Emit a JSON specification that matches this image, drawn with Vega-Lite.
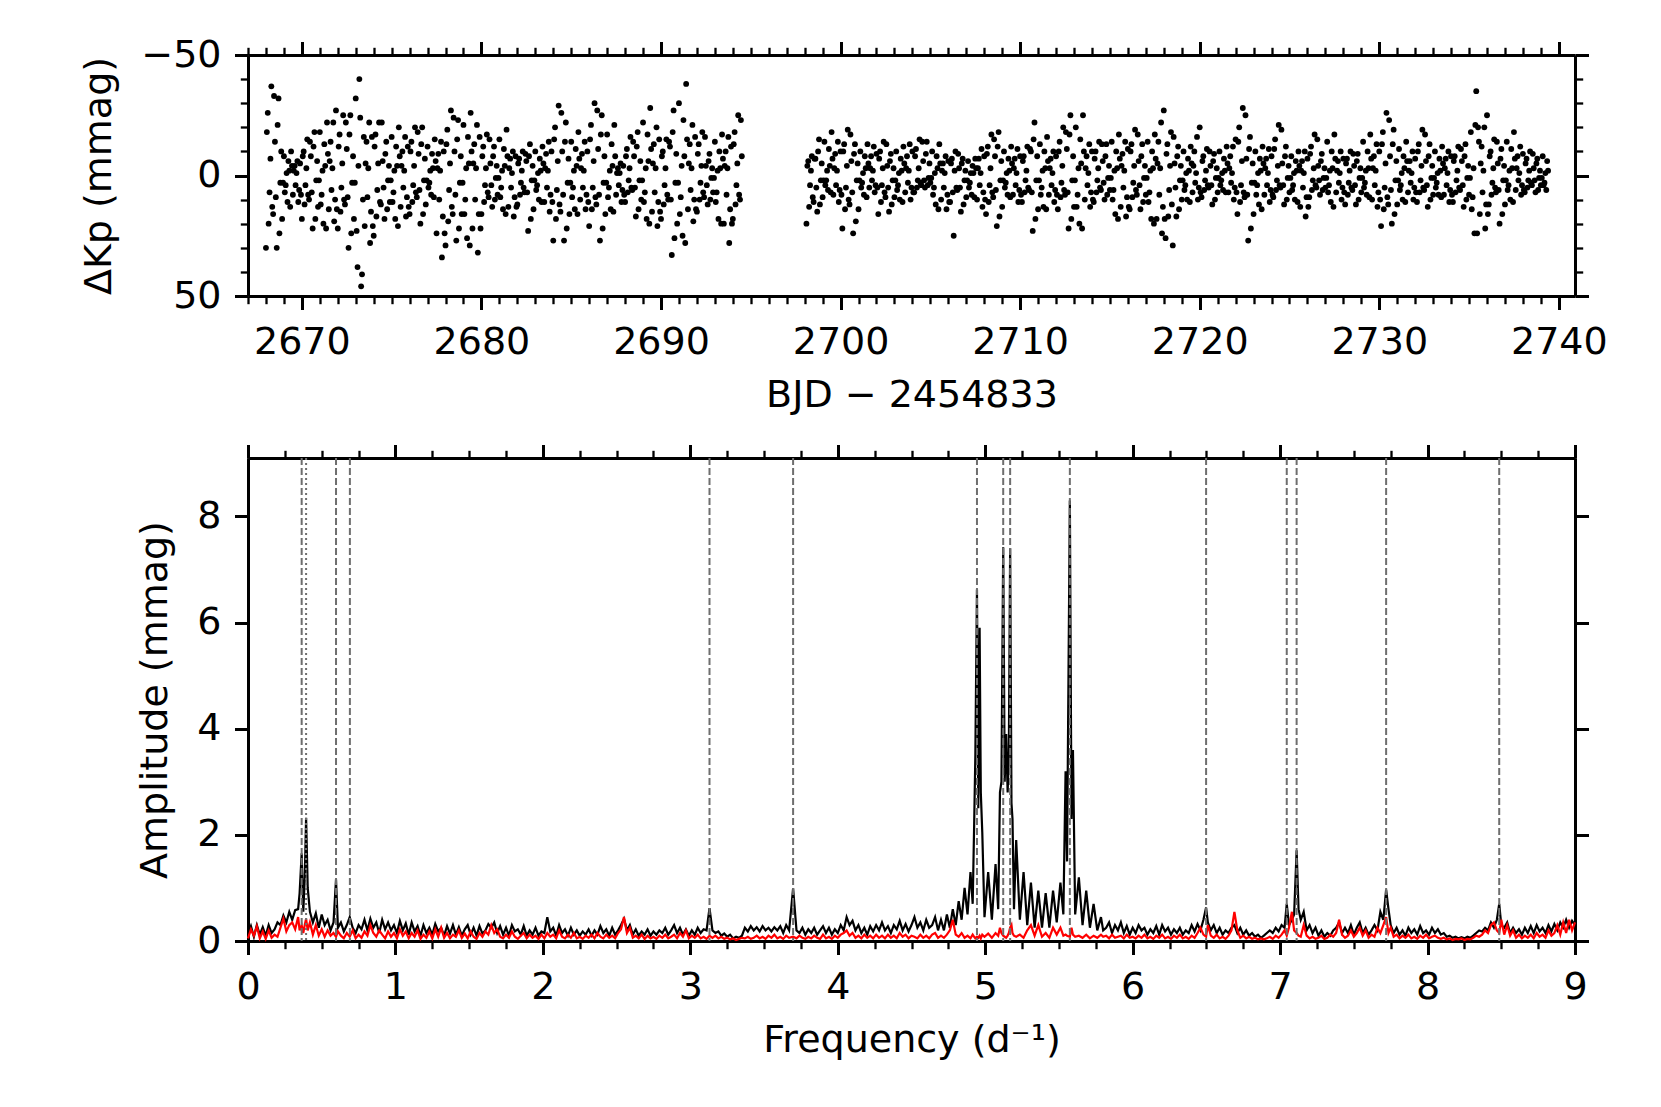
{
"$schema":"https://vega.github.io/schema/vega-lite/v6.json",
"background":"white",
"padding":{"left":80,"top":36,"right":20,"bottom":20},
"config":{"font":"DejaVu Sans","view":{"stroke":null},
"axis":{"grid":false,"domainColor":"#000","domainWidth":3,"tickColor":"#000","tickWidth":3,"tickSize":13.5,"labelFontSize":38,"labelColor":"#000","labelPadding":13.5,"labelFlush":false,"labelOverlap":false,"titleFontSize":38,"titleFontWeight":"normal","titleColor":"#000","labelFont":"DejaVu Sans","titleFont":"DejaVu Sans"}},
"datasets":{
"lc":[
{"t":2668.0,"m":30},{"t":2668.1,"m":-26},{"t":2668.2,"m":7},{"t":2668.3,"m":-37},{"t":2668.4,"m":16},
{"t":2668.5,"m":-14},{"t":2668.6,"m":30},{"t":2668.7,"m":-32},{"t":2668.8,"m":3},{"t":2668.9,"m":18},
{"t":2669.0,"m":-8},{"t":2669.1,"m":4},{"t":2669.2,"m":11},{"t":2669.3,"m":-2},{"t":2669.4,"m":-10},
{"t":2669.5,"m":8},{"t":2669.6,"m":-4},{"t":2669.7,"m":-1},{"t":2669.8,"m":11},{"t":2669.9,"m":-5},
{"t":2670.0,"m":18},{"t":2670.1,"m":-10},{"t":2670.2,"m":4},{"t":2670.3,"m":-15},{"t":2670.4,"m":10},
{"t":2670.5,"m":-8},{"t":2670.6,"m":22},{"t":2670.7,"m":-18},{"t":2670.8,"m":2},{"t":2670.9,"m":13},
{"t":2671.0,"m":-18},{"t":2671.1,"m":8},{"t":2671.2,"m":20},{"t":2671.3,"m":-4},{"t":2671.4,"m":-22},
{"t":2671.5,"m":14},{"t":2671.6,"m":-14},{"t":2671.7,"m":-3},{"t":2671.8,"m":19},{"t":2671.9,"m":-27},
{"t":2672.0,"m":22},{"t":2672.1,"m":-17},{"t":2672.2,"m":5},{"t":2672.3,"m":-25},{"t":2672.4,"m":12},
{"t":2672.5,"m":-11},{"t":2672.6,"m":30},{"t":2672.7,"m":-25},{"t":2672.8,"m":3},{"t":2672.9,"m":18},
{"t":2673.0,"m":-32},{"t":2673.1,"m":38},{"t":2673.2,"m":-40},{"t":2673.3,"m":46},{"t":2673.4,"m":10},
{"t":2673.5,"m":21},{"t":2673.6,"m":-14},{"t":2673.7,"m":-3},{"t":2673.8,"m":28},{"t":2673.9,"m":-16},
{"t":2674.0,"m":25},{"t":2674.1,"m":-17},{"t":2674.2,"m":6},{"t":2674.3,"m":-22},{"t":2674.4,"m":12},
{"t":2674.5,"m":-6},{"t":2674.6,"m":18},{"t":2674.7,"m":-14},{"t":2674.8,"m":2},{"t":2674.9,"m":11},
{"t":2675.0,"m":-16},{"t":2675.1,"m":7},{"t":2675.2,"m":18},{"t":2675.3,"m":-4},{"t":2675.4,"m":-20},
{"t":2675.5,"m":13},{"t":2675.6,"m":-10},{"t":2675.7,"m":-2},{"t":2675.8,"m":17},{"t":2675.9,"m":-12},
{"t":2676.0,"m":16},{"t":2676.1,"m":-14},{"t":2676.2,"m":4},{"t":2676.3,"m":-20},{"t":2676.4,"m":9},
{"t":2676.5,"m":-9},{"t":2676.6,"m":20},{"t":2676.7,"m":-20},{"t":2676.8,"m":2},{"t":2676.9,"m":12},
{"t":2677.0,"m":-12},{"t":2677.1,"m":3},{"t":2677.2,"m":8},{"t":2677.3,"m":-3},{"t":2677.4,"m":-15},
{"t":2677.5,"m":24},{"t":2677.6,"m":-9},{"t":2677.7,"m":-2},{"t":2677.8,"m":34},{"t":2677.9,"m":-10},
{"t":2678.0,"m":29},{"t":2678.1,"m":-19},{"t":2678.2,"m":6},{"t":2678.3,"m":-27},{"t":2678.4,"m":16},
{"t":2678.5,"m":-10},{"t":2678.6,"m":27},{"t":2678.7,"m":-23},{"t":2678.8,"m":3},{"t":2678.9,"m":16},
{"t":2679.0,"m":-21},{"t":2679.1,"m":10},{"t":2679.2,"m":26},{"t":2679.3,"m":-5},{"t":2679.4,"m":-26},
{"t":2679.5,"m":22},{"t":2679.6,"m":-13},{"t":2679.7,"m":-3},{"t":2679.8,"m":32},{"t":2679.9,"m":-16},
{"t":2680.0,"m":16},{"t":2680.1,"m":-12},{"t":2680.2,"m":4},{"t":2680.3,"m":-17},{"t":2680.4,"m":9},
{"t":2680.5,"m":-5},{"t":2680.6,"m":13},{"t":2680.7,"m":-12},{"t":2680.8,"m":1},{"t":2680.9,"m":8},
{"t":2681.0,"m":-15},{"t":2681.1,"m":5},{"t":2681.2,"m":14},{"t":2681.3,"m":-4},{"t":2681.4,"m":-19},
{"t":2681.5,"m":13},{"t":2681.6,"m":-7},{"t":2681.7,"m":-1},{"t":2681.8,"m":17},{"t":2681.9,"m":-8},
{"t":2682.0,"m":12},{"t":2682.1,"m":-7},{"t":2682.2,"m":3},{"t":2682.3,"m":-10},{"t":2682.4,"m":7},
{"t":2682.5,"m":-6},{"t":2682.6,"m":23},{"t":2682.7,"m":-13},{"t":2682.8,"m":2},{"t":2682.9,"m":14},
{"t":2683.0,"m":-10},{"t":2683.1,"m":4},{"t":2683.2,"m":10},{"t":2683.3,"m":-2},{"t":2683.4,"m":-12},
{"t":2683.5,"m":11},{"t":2683.6,"m":-9},{"t":2683.7,"m":-2},{"t":2683.8,"m":15},{"t":2683.9,"m":-10},
{"t":2684.0,"m":27},{"t":2684.1,"m":-20},{"t":2684.2,"m":6},{"t":2684.3,"m":-29},{"t":2684.4,"m":15},
{"t":2684.5,"m":-10},{"t":2684.6,"m":27},{"t":2684.7,"m":-22},{"t":2684.8,"m":3},{"t":2684.9,"m":16},
{"t":2685.0,"m":-14},{"t":2685.1,"m":5},{"t":2685.2,"m":14},{"t":2685.3,"m":-4},{"t":2685.4,"m":-18},
{"t":2685.5,"m":10},{"t":2685.6,"m":-9},{"t":2685.7,"m":-2},{"t":2685.8,"m":14},{"t":2685.9,"m":-10},
{"t":2686.0,"m":21},{"t":2686.1,"m":-21},{"t":2686.2,"m":5},{"t":2686.3,"m":-30},{"t":2686.4,"m":12},
{"t":2686.5,"m":-11},{"t":2686.6,"m":27},{"t":2686.7,"m":-25},{"t":2686.8,"m":3},{"t":2686.9,"m":16},
{"t":2687.0,"m":-17},{"t":2687.1,"m":5},{"t":2687.2,"m":14},{"t":2687.3,"m":-4},{"t":2687.4,"m":-21},
{"t":2687.5,"m":8},{"t":2687.6,"m":-3},{"t":2687.7,"m":-1},{"t":2687.8,"m":11},{"t":2687.9,"m":-4},
{"t":2688.0,"m":11},{"t":2688.1,"m":-11},{"t":2688.2,"m":2},{"t":2688.3,"m":-16},{"t":2688.4,"m":6},
{"t":2688.5,"m":-8},{"t":2688.6,"m":17},{"t":2688.7,"m":-18},{"t":2688.8,"m":2},{"t":2688.9,"m":10},
{"t":2689.0,"m":-22},{"t":2689.1,"m":7},{"t":2689.2,"m":18},{"t":2689.3,"m":-6},{"t":2689.4,"m":-28},
{"t":2689.5,"m":15},{"t":2689.6,"m":-13},{"t":2689.7,"m":-3},{"t":2689.8,"m":21},{"t":2689.9,"m":-15},
{"t":2690.0,"m":18},{"t":2690.1,"m":-10},{"t":2690.2,"m":4},{"t":2690.3,"m":-15},{"t":2690.4,"m":10},
{"t":2690.5,"m":-12},{"t":2690.6,"m":33},{"t":2690.7,"m":-27},{"t":2690.8,"m":3},{"t":2690.9,"m":20},
{"t":2691.0,"m":-30},{"t":2691.1,"m":9},{"t":2691.2,"m":25},{"t":2691.3,"m":-8},{"t":2691.4,"m":-38},
{"t":2691.5,"m":14},{"t":2691.6,"m":-13},{"t":2691.7,"m":-3},{"t":2691.8,"m":19},{"t":2691.9,"m":-16},
{"t":2692.0,"m":15},{"t":2692.1,"m":-13},{"t":2692.2,"m":3},{"t":2692.3,"m":-18},{"t":2692.4,"m":9},
{"t":2692.5,"m":-4},{"t":2692.6,"m":12},{"t":2692.7,"m":-9},{"t":2692.8,"m":1},{"t":2692.9,"m":7},
{"t":2693.0,"m":-14},{"t":2693.1,"m":7},{"t":2693.2,"m":18},{"t":2693.3,"m":-3},{"t":2693.4,"m":-17},
{"t":2693.5,"m":20},{"t":2693.6,"m":-10},{"t":2693.7,"m":-3},{"t":2693.8,"m":28},{"t":2693.9,"m":-12},
{"t":2694.0,"m":18},{"t":2694.1,"m":-18},{"t":2694.2,"m":4},{"t":2694.3,"m":-25},{"t":2694.4,"m":10},
{"t":2694.5,"m":-8},
{"t":2698.1,"m":20},{"t":2698.2,"m":-6},{"t":2698.3,"m":4},{"t":2698.4,"m":-8},{"t":2698.5,"m":11},
{"t":2698.6,"m":-7},{"t":2698.7,"m":15},{"t":2698.8,"m":-15},{"t":2698.9,"m":2},{"t":2699.0,"m":9},
{"t":2699.1,"m":-14},{"t":2699.2,"m":2},{"t":2699.3,"m":6},{"t":2699.4,"m":-4},{"t":2699.5,"m":-18},
{"t":2699.6,"m":8},{"t":2699.7,"m":-9},{"t":2699.8,"m":-2},{"t":2699.9,"m":11},{"t":2700.0,"m":-10},
{"t":2700.1,"m":22},{"t":2700.2,"m":-13},{"t":2700.3,"m":5},{"t":2700.4,"m":-19},{"t":2700.5,"m":12},
{"t":2700.6,"m":-6},{"t":2700.7,"m":24},{"t":2700.8,"m":-13},{"t":2700.9,"m":2},{"t":2701.0,"m":14},
{"t":2701.1,"m":-10},{"t":2701.2,"m":3},{"t":2701.3,"m":8},{"t":2701.4,"m":-3},{"t":2701.5,"m":-13},
{"t":2701.6,"m":5},{"t":2701.7,"m":-8},{"t":2701.8,"m":-2},{"t":2701.9,"m":7},{"t":2702.0,"m":-9},
{"t":2702.1,"m":16},{"t":2702.2,"m":-10},{"t":2702.3,"m":4},{"t":2702.4,"m":-14},{"t":2702.5,"m":9},
{"t":2702.6,"m":-4},{"t":2702.7,"m":15},{"t":2702.8,"m":-9},{"t":2702.9,"m":2},{"t":2703.0,"m":9},
{"t":2703.1,"m":-10},{"t":2703.2,"m":4},{"t":2703.3,"m":10},{"t":2703.4,"m":-2},{"t":2703.5,"m":-12},
{"t":2703.6,"m":7},{"t":2703.7,"m":-8},{"t":2703.8,"m":-2},{"t":2703.9,"m":10},{"t":2704.0,"m":-10},
{"t":2704.1,"m":7},{"t":2704.2,"m":-11},{"t":2704.3,"m":2},{"t":2704.4,"m":-15},{"t":2704.5,"m":4},
{"t":2704.6,"m":-6},{"t":2704.7,"m":5},{"t":2704.8,"m":-14},{"t":2704.9,"m":1},{"t":2705.0,"m":3},
{"t":2705.1,"m":-10},{"t":2705.2,"m":5},{"t":2705.3,"m":12},{"t":2705.4,"m":-3},{"t":2705.5,"m":-13},
{"t":2705.6,"m":10},{"t":2705.7,"m":-5},{"t":2705.8,"m":-1},{"t":2705.9,"m":14},{"t":2706.0,"m":-6},
{"t":2706.1,"m":11},{"t":2706.2,"m":-7},{"t":2706.3,"m":25},{"t":2706.4,"m":-10},{"t":2706.5,"m":6},
{"t":2706.6,"m":-3},{"t":2706.7,"m":15},{"t":2706.8,"m":-7},{"t":2706.9,"m":2},{"t":2707.0,"m":9},
{"t":2707.1,"m":-6},{"t":2707.2,"m":3},{"t":2707.3,"m":8},{"t":2707.4,"m":-1},{"t":2707.5,"m":-7},
{"t":2707.6,"m":10},{"t":2707.7,"m":-7},{"t":2707.8,"m":-1},{"t":2707.9,"m":13},{"t":2708.0,"m":-8},
{"t":2708.1,"m":16},{"t":2708.2,"m":-12},{"t":2708.3,"m":4},{"t":2708.4,"m":-17},{"t":2708.5,"m":9},
{"t":2708.6,"m":-8},{"t":2708.7,"m":21},{"t":2708.8,"m":-18},{"t":2708.9,"m":2},{"t":2709.0,"m":13},
{"t":2709.1,"m":-10},{"t":2709.2,"m":3},{"t":2709.3,"m":8},{"t":2709.4,"m":-2},{"t":2709.5,"m":-12},
{"t":2709.6,"m":8},{"t":2709.7,"m":-7},{"t":2709.8,"m":-1},{"t":2709.9,"m":11},{"t":2710.0,"m":-8},
{"t":2710.1,"m":11},{"t":2710.2,"m":-8},{"t":2710.3,"m":2},{"t":2710.4,"m":-12},{"t":2710.5,"m":6},
{"t":2710.6,"m":-10},{"t":2710.7,"m":23},{"t":2710.8,"m":-22},{"t":2710.9,"m":2},{"t":2711.0,"m":14},
{"t":2711.1,"m":-13},{"t":2711.2,"m":5},{"t":2711.3,"m":13},{"t":2711.4,"m":-3},{"t":2711.5,"m":-16},
{"t":2711.6,"m":8},{"t":2711.7,"m":-7},{"t":2711.8,"m":-1},{"t":2711.9,"m":11},{"t":2712.0,"m":-8},
{"t":2712.1,"m":14},{"t":2712.2,"m":-14},{"t":2712.3,"m":3},{"t":2712.4,"m":-20},{"t":2712.5,"m":8},
{"t":2712.6,"m":-11},{"t":2712.7,"m":22},{"t":2712.8,"m":-25},{"t":2712.9,"m":2},{"t":2713.0,"m":13},
{"t":2713.1,"m":-20},{"t":2713.2,"m":8},{"t":2713.3,"m":20},{"t":2713.4,"m":-5},{"t":2713.5,"m":-25},
{"t":2713.6,"m":10},{"t":2713.7,"m":-8},{"t":2713.8,"m":-1},{"t":2713.9,"m":13},{"t":2714.0,"m":-10},
{"t":2714.1,"m":11},{"t":2714.2,"m":-10},{"t":2714.3,"m":2},{"t":2714.4,"m":-14},{"t":2714.5,"m":6},
{"t":2714.6,"m":-6},{"t":2714.7,"m":10},{"t":2714.8,"m":-13},{"t":2714.9,"m":1},{"t":2715.0,"m":6},
{"t":2715.1,"m":-14},{"t":2715.2,"m":6},{"t":2715.3,"m":16},{"t":2715.4,"m":-3},{"t":2715.5,"m":-17},
{"t":2715.6,"m":13},{"t":2715.7,"m":-9},{"t":2715.8,"m":-2},{"t":2715.9,"m":17},{"t":2716.0,"m":-11},
{"t":2716.1,"m":14},{"t":2716.2,"m":-13},{"t":2716.3,"m":3},{"t":2716.4,"m":-19},{"t":2716.5,"m":8},
{"t":2716.6,"m":-6},{"t":2716.7,"m":14},{"t":2716.8,"m":-13},{"t":2716.9,"m":1},{"t":2717.0,"m":8},
{"t":2717.1,"m":-14},{"t":2717.2,"m":7},{"t":2717.3,"m":18},{"t":2717.4,"m":-3},{"t":2717.5,"m":-17},
{"t":2717.6,"m":18},{"t":2717.7,"m":-14},{"t":2717.8,"m":-3},{"t":2717.9,"m":24},{"t":2718.0,"m":-27},
{"t":2718.1,"m":26},{"t":2718.2,"m":-13},{"t":2718.3,"m":6},{"t":2718.4,"m":-18},{"t":2718.5,"m":29},
{"t":2718.6,"m":-5},{"t":2718.7,"m":17},{"t":2718.8,"m":-12},{"t":2718.9,"m":2},{"t":2719.0,"m":10},
{"t":2719.1,"m":-10},{"t":2719.2,"m":4},{"t":2719.3,"m":10},{"t":2719.4,"m":-2},{"t":2719.5,"m":-12},
{"t":2719.6,"m":7},{"t":2719.7,"m":-10},{"t":2719.8,"m":-1},{"t":2719.9,"m":10},{"t":2720.0,"m":-20},
{"t":2720.1,"m":9},{"t":2720.2,"m":-8},{"t":2720.3,"m":2},{"t":2720.4,"m":-11},{"t":2720.5,"m":5},
{"t":2720.6,"m":-4},{"t":2720.7,"m":12},{"t":2720.8,"m":-9},{"t":2720.9,"m":1},{"t":2721.0,"m":7},
{"t":2721.1,"m":-10},{"t":2721.2,"m":2},{"t":2721.3,"m":6},{"t":2721.4,"m":-2},{"t":2721.5,"m":-12},
{"t":2721.6,"m":7},{"t":2721.7,"m":-8},{"t":2721.8,"m":-1},{"t":2721.9,"m":10},{"t":2722.0,"m":-15},
{"t":2722.1,"m":16},{"t":2722.2,"m":-20},{"t":2722.3,"m":4},{"t":2722.4,"m":-28},{"t":2722.5,"m":9},
{"t":2722.6,"m":-7},{"t":2722.7,"m":27},{"t":2722.8,"m":-16},{"t":2722.9,"m":3},{"t":2723.0,"m":16},
{"t":2723.1,"m":-10},{"t":2723.2,"m":4},{"t":2723.3,"m":12},{"t":2723.4,"m":-2},{"t":2723.5,"m":-12},
{"t":2723.6,"m":8},{"t":2723.7,"m":-7},{"t":2723.8,"m":-1},{"t":2723.9,"m":11},{"t":2724.0,"m":-8},
{"t":2724.1,"m":9},{"t":2724.2,"m":-15},{"t":2724.3,"m":2},{"t":2724.4,"m":-21},{"t":2724.5,"m":5},
{"t":2724.6,"m":-5},{"t":2724.7,"m":12},{"t":2724.8,"m":-12},{"t":2724.9,"m":1},{"t":2725.0,"m":7},
{"t":2725.1,"m":-8},{"t":2725.2,"m":4},{"t":2725.3,"m":10},{"t":2725.4,"m":-2},{"t":2725.5,"m":-10},
{"t":2725.6,"m":13},{"t":2725.7,"m":-6},{"t":2725.8,"m":-1},{"t":2725.9,"m":17},{"t":2726.0,"m":-7},
{"t":2726.1,"m":9},{"t":2726.2,"m":-12},{"t":2726.3,"m":2},{"t":2726.4,"m":-17},{"t":2726.5,"m":5},
{"t":2726.6,"m":-4},{"t":2726.7,"m":8},{"t":2726.8,"m":-9},{"t":2726.9,"m":1},{"t":2727.0,"m":5},
{"t":2727.1,"m":-14},{"t":2727.2,"m":4},{"t":2727.3,"m":11},{"t":2727.4,"m":-3},{"t":2727.5,"m":-17},
{"t":2727.6,"m":7},{"t":2727.7,"m":-6},{"t":2727.8,"m":-1},{"t":2727.9,"m":10},{"t":2728.0,"m":-7},
{"t":2728.1,"m":12},{"t":2728.2,"m":-7},{"t":2728.3,"m":3},{"t":2728.4,"m":-10},{"t":2728.5,"m":6},
{"t":2728.6,"m":-4},{"t":2728.7,"m":12},{"t":2728.8,"m":-9},{"t":2728.9,"m":1},{"t":2729.0,"m":7},
{"t":2729.1,"m":-14},{"t":2729.2,"m":3},{"t":2729.3,"m":8},{"t":2729.4,"m":-3},{"t":2729.5,"m":-17},
{"t":2729.6,"m":10},{"t":2729.7,"m":-8},{"t":2729.8,"m":-2},{"t":2729.9,"m":13},{"t":2730.0,"m":-10},
{"t":2730.1,"m":21},{"t":2730.2,"m":-18},{"t":2730.3,"m":5},{"t":2730.4,"m":-26},{"t":2730.5,"m":12},
{"t":2730.6,"m":-8},{"t":2730.7,"m":20},{"t":2730.8,"m":-19},{"t":2730.9,"m":2},{"t":2731.0,"m":12},
{"t":2731.1,"m":-11},{"t":2731.2,"m":4},{"t":2731.3,"m":10},{"t":2731.4,"m":-3},{"t":2731.5,"m":-14},
{"t":2731.6,"m":7},{"t":2731.7,"m":-6},{"t":2731.8,"m":-1},{"t":2731.9,"m":10},{"t":2732.0,"m":-7},
{"t":2732.1,"m":11},{"t":2732.2,"m":-13},{"t":2732.3,"m":2},{"t":2732.4,"m":-19},{"t":2732.5,"m":6},
{"t":2732.6,"m":-6},{"t":2732.7,"m":13},{"t":2732.8,"m":-13},{"t":2732.9,"m":1},{"t":2733.0,"m":8},
{"t":2733.1,"m":-10},{"t":2733.2,"m":3},{"t":2733.3,"m":8},{"t":2733.4,"m":-2},{"t":2733.5,"m":-12},
{"t":2733.6,"m":8},{"t":2733.7,"m":-7},{"t":2733.8,"m":-1},{"t":2733.9,"m":11},{"t":2734.0,"m":-8},
{"t":2734.1,"m":11},{"t":2734.2,"m":-8},{"t":2734.3,"m":2},{"t":2734.4,"m":-12},{"t":2734.5,"m":6},
{"t":2734.6,"m":-6},{"t":2734.7,"m":13},{"t":2734.8,"m":-13},{"t":2734.9,"m":1},{"t":2735.0,"m":8},
{"t":2735.1,"m":-18},{"t":2735.2,"m":9},{"t":2735.3,"m":24},{"t":2735.4,"m":-35},{"t":2735.5,"m":-20},
{"t":2735.6,"m":16},{"t":2735.7,"m":-12},{"t":2735.8,"m":-2},{"t":2735.9,"m":22},{"t":2736.0,"m":-25},
{"t":2736.1,"m":12},{"t":2736.2,"m":-10},{"t":2736.3,"m":3},{"t":2736.4,"m":-15},{"t":2736.5,"m":7},
{"t":2736.6,"m":-5},{"t":2736.7,"m":20},{"t":2736.8,"m":-11},{"t":2736.9,"m":2},{"t":2737.0,"m":12},
{"t":2737.1,"m":-14},{"t":2737.2,"m":4},{"t":2737.3,"m":10},{"t":2737.4,"m":-3},{"t":2737.5,"m":-18},
{"t":2737.6,"m":6},{"t":2737.7,"m":-8},{"t":2737.8,"m":-1},{"t":2737.9,"m":8},{"t":2738.0,"m":-9},
{"t":2738.1,"m":7},{"t":2738.2,"m":-7},{"t":2738.3,"m":2},{"t":2738.4,"m":-10},{"t":2738.5,"m":4},
{"t":2738.6,"m":-3},{"t":2738.7,"m":7},{"t":2738.8,"m":-7},{"t":2738.9,"m":1},{"t":2739.0,"m":4},
{"t":2739.1,"m":-8},{"t":2739.2,"m":3},{"t":2739.3,"m":6},{"t":2739.4,"m":-2},
{"t":2668.05,"m":-18},{"t":2668.15,"m":20},{"t":2668.25,"m":-7},{"t":2668.35,"m":13},{"t":2668.45,"m":-33},
{"t":2668.55,"m":9},{"t":2668.65,"m":-21},{"t":2668.75,"m":24},{"t":2668.85,"m":-10},{"t":2668.95,"m":3},
{"t":2669.05,"m":7},{"t":2669.15,"m":-1},{"t":2669.25,"m":-6},{"t":2669.35,"m":13},{"t":2669.45,"m":-4},
{"t":2669.55,"m":-2},{"t":2669.65,"m":4},{"t":2669.75,"m":-6},{"t":2669.85,"m":6},{"t":2669.95,"m":8},
{"t":2670.05,"m":-8},{"t":2670.15,"m":12},{"t":2670.25,"m":-3},{"t":2670.35,"m":8},{"t":2670.45,"m":-14},
{"t":2670.55,"m":7},{"t":2670.65,"m":-12},{"t":2670.75,"m":18},{"t":2670.85,"m":-6},{"t":2670.95,"m":2},
{"t":2671.05,"m":12},{"t":2671.15,"m":-2},{"t":2671.25,"m":-13},{"t":2671.35,"m":22},{"t":2671.45,"m":-9},
{"t":2671.55,"m":-6},{"t":2671.65,"m":6},{"t":2671.75,"m":-22},{"t":2671.85,"m":10},{"t":2671.95,"m":14},
{"t":2672.05,"m":-12},{"t":2672.15,"m":15},{"t":2672.25,"m":-5},{"t":2672.35,"m":10},{"t":2672.45,"m":-22},
{"t":2672.55,"m":9},{"t":2672.65,"m":-17},{"t":2672.75,"m":24},{"t":2672.85,"m":-8},{"t":2672.95,"m":3},
{"t":2673.05,"m":23},{"t":2673.15,"m":-4},{"t":2673.25,"m":-24},{"t":2673.35,"m":41},{"t":2673.45,"m":-16},
{"t":2673.55,"m":-5},{"t":2673.65,"m":9},{"t":2673.75,"m":-22},{"t":2673.85,"m":15},{"t":2673.95,"m":21},
{"t":2674.05,"m":-12},{"t":2674.15,"m":17},{"t":2674.25,"m":-5},{"t":2674.35,"m":11},{"t":2674.45,"m":-22},
{"t":2674.55,"m":5},{"t":2674.65,"m":-9},{"t":2674.75,"m":14},{"t":2674.85,"m":-4},{"t":2674.95,"m":2},
{"t":2675.05,"m":11},{"t":2675.15,"m":-2},{"t":2675.25,"m":-12},{"t":2675.35,"m":21},{"t":2675.45,"m":-8},
{"t":2675.55,"m":-4},{"t":2675.65,"m":5},{"t":2675.75,"m":-16},{"t":2675.85,"m":9},{"t":2675.95,"m":13},
{"t":2676.05,"m":-10},{"t":2676.15,"m":11},{"t":2676.25,"m":-4},{"t":2676.35,"m":7},{"t":2676.45,"m":-18},
{"t":2676.55,"m":6},{"t":2676.65,"m":-13},{"t":2676.75,"m":16},{"t":2676.85,"m":-7},{"t":2676.95,"m":2},
{"t":2677.05,"m":5},{"t":2677.15,"m":-2},{"t":2677.25,"m":-9},{"t":2677.35,"m":9},{"t":2677.45,"m":-6},
{"t":2677.55,"m":-3},{"t":2677.65,"m":10},{"t":2677.75,"m":-14},{"t":2677.85,"m":17},{"t":2677.95,"m":24},
{"t":2678.05,"m":-13},{"t":2678.15,"m":19},{"t":2678.25,"m":-5},{"t":2678.35,"m":13},{"t":2678.45,"m":-24},
{"t":2678.55,"m":8},{"t":2678.65,"m":-15},{"t":2678.75,"m":22},{"t":2678.85,"m":-8},{"t":2678.95,"m":3},
{"t":2679.05,"m":16},{"t":2679.15,"m":-3},{"t":2679.25,"m":-16},{"t":2679.35,"m":29},{"t":2679.45,"m":-10},
{"t":2679.55,"m":-5},{"t":2679.65,"m":10},{"t":2679.75,"m":-21},{"t":2679.85,"m":16},{"t":2679.95,"m":22},
{"t":2680.05,"m":-8},{"t":2680.15,"m":11},{"t":2680.25,"m":-3},{"t":2680.35,"m":7},{"t":2680.45,"m":-15},
{"t":2680.55,"m":4},{"t":2680.65,"m":-8},{"t":2680.75,"m":10},{"t":2680.85,"m":-4},{"t":2680.95,"m":1},
{"t":2681.05,"m":9},{"t":2681.15,"m":-2},{"t":2681.25,"m":-11},{"t":2681.35,"m":16},{"t":2681.45,"m":-8},
{"t":2681.55,"m":-3},{"t":2681.65,"m":5},{"t":2681.75,"m":-10},{"t":2681.85,"m":9},{"t":2681.95,"m":13},
{"t":2682.05,"m":-5},{"t":2682.15,"m":8},{"t":2682.25,"m":-2},{"t":2682.35,"m":5},{"t":2682.45,"m":-9},
{"t":2682.55,"m":7},{"t":2682.65,"m":-8},{"t":2682.75,"m":18},{"t":2682.85,"m":-4},{"t":2682.95,"m":2},
{"t":2683.05,"m":6},{"t":2683.15,"m":-1},{"t":2683.25,"m":-7},{"t":2683.35,"m":11},{"t":2683.45,"m":-5},
{"t":2683.55,"m":-3},{"t":2683.65,"m":5},{"t":2683.75,"m":-14},{"t":2683.85,"m":8},{"t":2683.95,"m":11},
{"t":2684.05,"m":-15},{"t":2684.15,"m":18},{"t":2684.25,"m":-6},{"t":2684.35,"m":12},{"t":2684.45,"m":-26},
{"t":2684.55,"m":8},{"t":2684.65,"m":-14},{"t":2684.75,"m":22},{"t":2684.85,"m":-7},{"t":2684.95,"m":3},
{"t":2685.05,"m":9},{"t":2685.15,"m":-2},{"t":2685.25,"m":-11},{"t":2685.35,"m":16},{"t":2685.45,"m":-7},
{"t":2685.55,"m":-3},{"t":2685.65,"m":5},{"t":2685.75,"m":-14},{"t":2685.85,"m":8},{"t":2685.95,"m":11},
{"t":2686.05,"m":-15},{"t":2686.15,"m":14},{"t":2686.25,"m":-6},{"t":2686.35,"m":9},{"t":2686.45,"m":-27},
{"t":2686.55,"m":8},{"t":2686.65,"m":-17},{"t":2686.75,"m":22},{"t":2686.85,"m":-8},{"t":2686.95,"m":3},
{"t":2687.05,"m":9},{"t":2687.15,"m":-2},{"t":2687.25,"m":-13},{"t":2687.35,"m":15},{"t":2687.45,"m":-8},
{"t":2687.55,"m":-1},{"t":2687.65,"m":4},{"t":2687.75,"m":-5},{"t":2687.85,"m":6},{"t":2687.95,"m":8},
{"t":2688.05,"m":-8},{"t":2688.15,"m":7},{"t":2688.25,"m":-3},{"t":2688.35,"m":5},{"t":2688.45,"m":-14},
{"t":2688.55,"m":5},{"t":2688.65,"m":-12},{"t":2688.75,"m":14},{"t":2688.85,"m":-6},{"t":2688.95,"m":2},
{"t":2689.05,"m":11},{"t":2689.15,"m":-3},{"t":2689.25,"m":-17},{"t":2689.35,"m":20},{"t":2689.45,"m":-11},
{"t":2689.55,"m":-5},{"t":2689.65,"m":7},{"t":2689.75,"m":-20},{"t":2689.85,"m":11},{"t":2689.95,"m":15},
{"t":2690.05,"m":-8},{"t":2690.15,"m":12},{"t":2690.25,"m":-3},{"t":2690.35,"m":8},{"t":2690.45,"m":-14},
{"t":2690.55,"m":10},{"t":2690.65,"m":-18},{"t":2690.75,"m":26},{"t":2690.85,"m":-9},{"t":2690.95,"m":3},
{"t":2691.05,"m":16},{"t":2691.15,"m":-4},{"t":2691.25,"m":-23},{"t":2691.35,"m":28},{"t":2691.45,"m":-15},
{"t":2691.55,"m":-5},{"t":2691.65,"m":6},{"t":2691.75,"m":-21},{"t":2691.85,"m":10},{"t":2691.95,"m":14},
{"t":2692.05,"m":-9},{"t":2692.15,"m":10},{"t":2692.25,"m":-4},{"t":2692.35,"m":7},{"t":2692.45,"m":-16},
{"t":2692.55,"m":4},{"t":2692.65,"m":-6},{"t":2692.75,"m":10},{"t":2692.85,"m":-3},{"t":2692.95,"m":1},
{"t":2693.05,"m":11},{"t":2693.15,"m":-2},{"t":2693.25,"m":-10},{"t":2693.35,"m":20},{"t":2693.45,"m":-7},
{"t":2693.55,"m":-4},{"t":2693.65,"m":8},{"t":2693.75,"m":-16},{"t":2693.85,"m":14},{"t":2693.95,"m":20},
{"t":2694.05,"m":-13},{"t":2694.15,"m":12},{"t":2694.25,"m":-5},{"t":2694.35,"m":8},{"t":2694.45,"m":-23},
{"t":2698.15,"m":-4},{"t":2698.25,"m":13},{"t":2698.35,"m":-2},{"t":2698.45,"m":9},{"t":2698.55,"m":-7},
{"t":2698.65,"m":5},{"t":2698.75,"m":-10},{"t":2698.85,"m":12},{"t":2698.95,"m":-5},{"t":2699.05,"m":2},
{"t":2699.15,"m":4},{"t":2699.25,"m":-2},{"t":2699.35,"m":-11},{"t":2699.45,"m":7},{"t":2699.55,"m":-7},
{"t":2699.65,"m":-3},{"t":2699.75,"m":4},{"t":2699.85,"m":-14},{"t":2699.95,"m":6},{"t":2700.05,"m":8},
{"t":2700.15,"m":-10},{"t":2700.25,"m":14},{"t":2700.35,"m":-4},{"t":2700.45,"m":10},{"t":2700.55,"m":-17},
{"t":2700.65,"m":7},{"t":2700.75,"m":-9},{"t":2700.85,"m":19},{"t":2700.95,"m":-5},{"t":2701.05,"m":2},
{"t":2701.15,"m":5},{"t":2701.25,"m":-1},{"t":2701.35,"m":-8},{"t":2701.45,"m":9},{"t":2701.55,"m":-5},
{"t":2701.65,"m":-3},{"t":2701.75,"m":2},{"t":2701.85,"m":-12},{"t":2701.95,"m":4},{"t":2702.05,"m":5},
{"t":2702.15,"m":-7},{"t":2702.25,"m":11},{"t":2702.35,"m":-3},{"t":2702.45,"m":7},{"t":2702.55,"m":-13},
{"t":2702.65,"m":5},{"t":2702.75,"m":-6},{"t":2702.85,"m":12},{"t":2702.95,"m":-3},{"t":2703.05,"m":2},
{"t":2703.15,"m":6},{"t":2703.25,"m":-1},{"t":2703.35,"m":-7},{"t":2703.45,"m":11},{"t":2703.55,"m":-5},
{"t":2703.65,"m":-3},{"t":2703.75,"m":3},{"t":2703.85,"m":-13},{"t":2703.95,"m":5},{"t":2704.05,"m":7},
{"t":2704.15,"m":-8},{"t":2704.25,"m":5},{"t":2704.35,"m":-3},{"t":2704.45,"m":3},{"t":2704.55,"m":-14},
{"t":2704.65,"m":2},{"t":2704.75,"m":-9},{"t":2704.85,"m":4},{"t":2704.95,"m":-5},{"t":2705.05,"m":1},
{"t":2705.15,"m":8},{"t":2705.25,"m":-1},{"t":2705.35,"m":-8},{"t":2705.45,"m":14},{"t":2705.55,"m":-5},
{"t":2705.65,"m":-2},{"t":2705.75,"m":5},{"t":2705.85,"m":-8},{"t":2705.95,"m":8},{"t":2706.05,"m":11},
{"t":2706.15,"m":-5},{"t":2706.25,"m":7},{"t":2706.35,"m":-2},{"t":2706.45,"m":5},{"t":2706.55,"m":-9},
{"t":2706.65,"m":5},{"t":2706.75,"m":-5},{"t":2706.85,"m":12},{"t":2706.95,"m":-2},{"t":2707.05,"m":2},
{"t":2707.15,"m":5},{"t":2707.25,"m":-1},{"t":2707.35,"m":-4},{"t":2707.45,"m":9},{"t":2707.55,"m":-3},
{"t":2707.65,"m":-3},{"t":2707.75,"m":4},{"t":2707.85,"m":-11},{"t":2707.95,"m":7},{"t":2708.05,"m":10},
{"t":2708.15,"m":-9},{"t":2708.25,"m":11},{"t":2708.35,"m":-3},{"t":2708.45,"m":7},{"t":2708.55,"m":-15},
{"t":2708.65,"m":6},{"t":2708.75,"m":-12},{"t":2708.85,"m":17},{"t":2708.95,"m":-6},{"t":2709.05,"m":2},
{"t":2709.15,"m":5},{"t":2709.25,"m":-1},{"t":2709.35,"m":-7},{"t":2709.45,"m":9},{"t":2709.55,"m":-5},
{"t":2709.65,"m":-3},{"t":2709.75,"m":4},{"t":2709.85,"m":-11},{"t":2709.95,"m":6},{"t":2710.05,"m":8},
{"t":2710.15,"m":-6},{"t":2710.25,"m":7},{"t":2710.35,"m":-2},{"t":2710.45,"m":5},{"t":2710.55,"m":-11},
{"t":2710.65,"m":7},{"t":2710.75,"m":-15},{"t":2710.85,"m":18},{"t":2710.95,"m":-8},{"t":2711.05,"m":2},
{"t":2711.15,"m":8},{"t":2711.25,"m":-2},{"t":2711.35,"m":-10},{"t":2711.45,"m":14},{"t":2711.55,"m":-6},
{"t":2711.65,"m":-3},{"t":2711.75,"m":4},{"t":2711.85,"m":-10},{"t":2711.95,"m":6},{"t":2712.05,"m":8},
{"t":2712.15,"m":-10},{"t":2712.25,"m":9},{"t":2712.35,"m":-4},{"t":2712.45,"m":6},{"t":2712.55,"m":-18},
{"t":2712.65,"m":7},{"t":2712.75,"m":-17},{"t":2712.85,"m":18},{"t":2712.95,"m":-8},{"t":2713.05,"m":2},
{"t":2713.15,"m":13},{"t":2713.25,"m":-3},{"t":2713.35,"m":-15},{"t":2713.45,"m":22},{"t":2713.55,"m":-10},
{"t":2713.65,"m":-3},{"t":2713.75,"m":4},{"t":2713.85,"m":-13},{"t":2713.95,"m":7},{"t":2714.05,"m":10},
{"t":2714.15,"m":-7},{"t":2714.25,"m":7},{"t":2714.35,"m":-3},{"t":2714.45,"m":5},{"t":2714.55,"m":-13},
{"t":2714.65,"m":3},{"t":2714.75,"m":-8},{"t":2714.85,"m":8},{"t":2714.95,"m":-4},{"t":2715.05,"m":1},
{"t":2715.15,"m":10},{"t":2715.25,"m":-2},{"t":2715.35,"m":-10},{"t":2715.45,"m":18},{"t":2715.55,"m":-7},
{"t":2715.65,"m":-4},{"t":2715.75,"m":5},{"t":2715.85,"m":-14},{"t":2715.95,"m":9},{"t":2716.05,"m":13},
{"t":2716.15,"m":-10},{"t":2716.25,"m":9},{"t":2716.35,"m":-4},{"t":2716.45,"m":6},{"t":2716.55,"m":-17},
{"t":2716.65,"m":4},{"t":2716.75,"m":-8},{"t":2716.85,"m":11},{"t":2716.95,"m":-4},{"t":2717.05,"m":1},
{"t":2717.15,"m":11},{"t":2717.25,"m":-2},{"t":2717.35,"m":-10},{"t":2717.45,"m":20},{"t":2717.55,"m":-7},
{"t":2717.65,"m":-5},{"t":2717.75,"m":8},{"t":2717.85,"m":-22},{"t":2717.95,"m":13},{"t":2718.05,"m":18},
{"t":2718.15,"m":-9},{"t":2718.25,"m":17},{"t":2718.35,"m":-4},{"t":2718.45,"m":12},{"t":2718.55,"m":-16},
{"t":2718.65,"m":5},{"t":2718.75,"m":-8},{"t":2718.85,"m":14},{"t":2718.95,"m":-4},{"t":2719.05,"m":2},
{"t":2719.15,"m":6},{"t":2719.25,"m":-1},{"t":2719.35,"m":-7},{"t":2719.45,"m":11},{"t":2719.55,"m":-5},
{"t":2719.65,"m":-4},{"t":2719.75,"m":3},{"t":2719.85,"m":-16},{"t":2719.95,"m":5},{"t":2720.05,"m":7},
{"t":2720.15,"m":-6},{"t":2720.25,"m":6},{"t":2720.35,"m":-2},{"t":2720.45,"m":4},{"t":2720.55,"m":-10},
{"t":2720.65,"m":4},{"t":2720.75,"m":-6},{"t":2720.85,"m":10},{"t":2720.95,"m":-3},{"t":2721.05,"m":1},
{"t":2721.15,"m":4},{"t":2721.25,"m":-1},{"t":2721.35,"m":-7},{"t":2721.45,"m":7},{"t":2721.55,"m":-5},
{"t":2721.65,"m":-3},{"t":2721.75,"m":3},{"t":2721.85,"m":-12},{"t":2721.95,"m":5},{"t":2722.05,"m":7},
{"t":2722.15,"m":-14},{"t":2722.25,"m":11},{"t":2722.35,"m":-6},{"t":2722.45,"m":7},{"t":2722.55,"m":-25},
{"t":2722.65,"m":8},{"t":2722.75,"m":-11},{"t":2722.85,"m":22},{"t":2722.95,"m":-5},{"t":2723.05,"m":3},
{"t":2723.15,"m":8},{"t":2723.25,"m":-1},{"t":2723.35,"m":-7},{"t":2723.45,"m":14},{"t":2723.55,"m":-5},
{"t":2723.65,"m":-3},{"t":2723.75,"m":4},{"t":2723.85,"m":-11},{"t":2723.95,"m":6},{"t":2724.05,"m":8},
{"t":2724.15,"m":-11},{"t":2724.25,"m":6},{"t":2724.35,"m":-4},{"t":2724.45,"m":4},{"t":2724.55,"m":-19},
{"t":2724.65,"m":4},{"t":2724.75,"m":-8},{"t":2724.85,"m":10},{"t":2724.95,"m":-4},{"t":2725.05,"m":1},
{"t":2725.15,"m":6},{"t":2725.25,"m":-1},{"t":2725.35,"m":-6},{"t":2725.45,"m":11},{"t":2725.55,"m":-4},
{"t":2725.65,"m":-2},{"t":2725.75,"m":5},{"t":2725.85,"m":-10},{"t":2725.95,"m":9},{"t":2726.05,"m":13},
{"t":2726.15,"m":-9},{"t":2726.25,"m":6},{"t":2726.35,"m":-3},{"t":2726.45,"m":4},{"t":2726.55,"m":-15},
{"t":2726.65,"m":2},{"t":2726.75,"m":-6},{"t":2726.85,"m":6},{"t":2726.95,"m":-3},{"t":2727.05,"m":1},
{"t":2727.15,"m":7},{"t":2727.25,"m":-2},{"t":2727.35,"m":-10},{"t":2727.45,"m":13},{"t":2727.55,"m":-7},
{"t":2727.65,"m":-2},{"t":2727.75,"m":3},{"t":2727.85,"m":-10},{"t":2727.95,"m":5},{"t":2728.05,"m":7},
{"t":2728.15,"m":-5},{"t":2728.25,"m":8},{"t":2728.35,"m":-2},{"t":2728.45,"m":5},{"t":2728.55,"m":-9},
{"t":2728.65,"m":4},{"t":2728.75,"m":-6},{"t":2728.85,"m":10},{"t":2728.95,"m":-3},{"t":2729.05,"m":1},
{"t":2729.15,"m":5},{"t":2729.25,"m":-2},{"t":2729.35,"m":-10},{"t":2729.45,"m":9},{"t":2729.55,"m":-7},
{"t":2729.65,"m":-3},{"t":2729.75,"m":4},{"t":2729.85,"m":-13},{"t":2729.95,"m":7},{"t":2730.05,"m":10},
{"t":2730.15,"m":-13},{"t":2730.25,"m":14},{"t":2730.35,"m":-5},{"t":2730.45,"m":9},{"t":2730.55,"m":-23},
{"t":2730.65,"m":6},{"t":2730.75,"m":-13},{"t":2730.85,"m":16},{"t":2730.95,"m":-6},{"t":2731.05,"m":2},
{"t":2731.15,"m":6},{"t":2731.25,"m":-1},{"t":2731.35,"m":-8},{"t":2731.45,"m":11},{"t":2731.55,"m":-6},
{"t":2731.65,"m":-2},{"t":2731.75,"m":3},{"t":2731.85,"m":-10},{"t":2731.95,"m":5},{"t":2732.05,"m":7},
{"t":2732.15,"m":-10},{"t":2732.25,"m":7},{"t":2732.35,"m":-4},{"t":2732.45,"m":5},{"t":2732.55,"m":-17},
{"t":2732.65,"m":4},{"t":2732.75,"m":-8},{"t":2732.85,"m":10},{"t":2732.95,"m":-4},{"t":2733.05,"m":1},
{"t":2733.15,"m":5},{"t":2733.25,"m":-1},{"t":2733.35,"m":-7},{"t":2733.45,"m":9},{"t":2733.55,"m":-5},
{"t":2733.65,"m":-3},{"t":2733.75,"m":4},{"t":2733.85,"m":-10},{"t":2733.95,"m":6},{"t":2734.05,"m":8},
{"t":2734.15,"m":-6},{"t":2734.25,"m":7},{"t":2734.35,"m":-2},{"t":2734.45,"m":5},{"t":2734.55,"m":-11},
{"t":2734.65,"m":4},{"t":2734.75,"m":-8},{"t":2734.85,"m":10},{"t":2734.95,"m":-4},{"t":2735.05,"m":1},
{"t":2735.15,"m":14},{"t":2735.25,"m":-3},{"t":2735.35,"m":-21},{"t":2735.45,"m":24},{"t":2735.55,"m":-14},
{"t":2735.65,"m":-5},{"t":2735.75,"m":7},{"t":2735.85,"m":-20},{"t":2735.95,"m":12},{"t":2736.05,"m":16},
{"t":2736.15,"m":-8},{"t":2736.25,"m":8},{"t":2736.35,"m":-3},{"t":2736.45,"m":5},{"t":2736.55,"m":-14},
{"t":2736.65,"m":6},{"t":2736.75,"m":-7},{"t":2736.85,"m":16},{"t":2736.95,"m":-4},{"t":2737.05,"m":2},
{"t":2737.15,"m":6},{"t":2737.25,"m":-2},{"t":2737.35,"m":-11},{"t":2737.45,"m":11},{"t":2737.55,"m":-7},
{"t":2737.65,"m":-3},{"t":2737.75,"m":2},{"t":2737.85,"m":-12},{"t":2737.95,"m":4},{"t":2738.05,"m":6},
{"t":2738.15,"m":-5},{"t":2738.25,"m":5},{"t":2738.35,"m":-2},{"t":2738.45,"m":3},{"t":2738.55,"m":-9},
{"t":2738.65,"m":2},{"t":2738.75,"m":-5},{"t":2738.85,"m":6},{"t":2738.95,"m":-2},{"t":2739.05,"m":1},
{"t":2739.15,"m":4},{"t":2739.25,"m":-1},{"t":2739.35,"m":-6}
],
"ps":[
{"f":0.00,"a":0.12,"r":0.05},{"f":0.02,"a":0.28,"r":0.22},{"f":0.04,"a":0.08,"r":0.10},{"f":0.06,"a":0.30,"r":0.28},{"f":0.08,"a":0.12,"r":0.05},
{"f":0.10,"a":0.26,"r":0.18},{"f":0.12,"a":0.10,"r":0.04},{"f":0.14,"a":0.30,"r":0.20},{"f":0.16,"a":0.15,"r":0.06},{"f":0.18,"a":0.22,"r":0.12},
{"f":0.20,"a":0.35,"r":0.08},{"f":0.22,"a":0.30,"r":0.25},{"f":0.24,"a":0.48,"r":0.42},{"f":0.26,"a":0.35,"r":0.18},{"f":0.28,"a":0.55,"r":0.30},
{"f":0.30,"a":0.40,"r":0.35},{"f":0.32,"a":0.58,"r":0.22},{"f":0.34,"a":0.60,"r":0.45},{"f":0.35,"a":0.90,"r":0.20},{"f":0.364,"a":1.65,"r":0.30},
{"f":0.375,"a":0.55,"r":0.15},{"f":0.385,"a":1.20,"r":0.30},{"f":0.394,"a":2.32,"r":0.42},{"f":0.405,"a":1.00,"r":0.20},{"f":0.42,"a":0.55,"r":0.35},
{"f":0.44,"a":0.35,"r":0.12},{"f":0.46,"a":0.52,"r":0.30},{"f":0.48,"a":0.25,"r":0.10},{"f":0.50,"a":0.50,"r":0.22},{"f":0.52,"a":0.30,"r":0.08},
{"f":0.54,"a":0.40,"r":0.20},{"f":0.56,"a":0.20,"r":0.10},{"f":0.58,"a":0.35,"r":0.15},{"f":0.597,"a":1.16,"r":0.08},{"f":0.61,"a":0.25,"r":0.18},
{"f":0.63,"a":0.35,"r":0.10},{"f":0.65,"a":0.18,"r":0.05},{"f":0.67,"a":0.30,"r":0.15},{"f":0.69,"a":0.45,"r":0.08},{"f":0.71,"a":0.25,"r":0.20},
{"f":0.73,"a":0.15,"r":0.05},{"f":0.75,"a":0.30,"r":0.12},{"f":0.77,"a":0.22,"r":0.06},{"f":0.79,"a":0.40,"r":0.18},{"f":0.81,"a":0.20,"r":0.10},
{"f":0.83,"a":0.42,"r":0.30},{"f":0.85,"a":0.25,"r":0.15},{"f":0.87,"a":0.35,"r":0.08},{"f":0.89,"a":0.15,"r":0.20},{"f":0.91,"a":0.40,"r":0.12},
{"f":0.93,"a":0.22,"r":0.05},{"f":0.95,"a":0.35,"r":0.18},{"f":0.97,"a":0.20,"r":0.08},{"f":0.99,"a":0.30,"r":0.15},{"f":1.01,"a":0.15,"r":0.05},
{"f":1.03,"a":0.38,"r":0.22},{"f":1.05,"a":0.20,"r":0.10},{"f":1.07,"a":0.33,"r":0.18},{"f":1.09,"a":0.12,"r":0.05},{"f":1.11,"a":0.35,"r":0.15},
{"f":1.13,"a":0.18,"r":0.08},{"f":1.15,"a":0.28,"r":0.20},{"f":1.17,"a":0.10,"r":0.04},{"f":1.19,"a":0.30,"r":0.12},{"f":1.21,"a":0.15,"r":0.06},
{"f":1.23,"a":0.25,"r":0.18},{"f":1.25,"a":0.12,"r":0.05},{"f":1.27,"a":0.32,"r":0.22},{"f":1.29,"a":0.18,"r":0.08},{"f":1.31,"a":0.25,"r":0.25},
{"f":1.33,"a":0.10,"r":0.06},{"f":1.35,"a":0.28,"r":0.15},{"f":1.37,"a":0.14,"r":0.05},{"f":1.39,"a":0.30,"r":0.12},{"f":1.41,"a":0.12,"r":0.08},
{"f":1.43,"a":0.26,"r":0.20},{"f":1.45,"a":0.10,"r":0.06},{"f":1.47,"a":0.22,"r":0.14},{"f":1.49,"a":0.30,"r":0.05},{"f":1.51,"a":0.12,"r":0.18},
{"f":1.53,"a":0.25,"r":0.08},{"f":1.55,"a":0.10,"r":0.04},{"f":1.57,"a":0.28,"r":0.15},{"f":1.59,"a":0.14,"r":0.08},{"f":1.61,"a":0.20,"r":0.18},
{"f":1.63,"a":0.32,"r":0.12},{"f":1.65,"a":0.25,"r":0.30},{"f":1.67,"a":0.35,"r":0.15},{"f":1.69,"a":0.15,"r":0.22},{"f":1.71,"a":0.28,"r":0.08},
{"f":1.73,"a":0.12,"r":0.05},{"f":1.75,"a":0.25,"r":0.12},{"f":1.77,"a":0.10,"r":0.06},{"f":1.79,"a":0.30,"r":0.18},{"f":1.81,"a":0.18,"r":0.08},
{"f":1.83,"a":0.22,"r":0.04},{"f":1.85,"a":0.12,"r":0.10},{"f":1.87,"a":0.28,"r":0.15},{"f":1.89,"a":0.10,"r":0.05},{"f":1.91,"a":0.20,"r":0.12},
{"f":1.93,"a":0.12,"r":0.06},{"f":1.95,"a":0.25,"r":0.10},{"f":1.97,"a":0.10,"r":0.04},{"f":1.99,"a":0.18,"r":0.12},{"f":2.01,"a":0.15,"r":0.05},
{"f":2.03,"a":0.45,"r":0.15},{"f":2.05,"a":0.18,"r":0.08},{"f":2.07,"a":0.25,"r":0.12},{"f":2.09,"a":0.10,"r":0.05},{"f":2.11,"a":0.30,"r":0.20},
{"f":2.13,"a":0.15,"r":0.08},{"f":2.15,"a":0.22,"r":0.05},{"f":2.17,"a":0.10,"r":0.12},{"f":2.19,"a":0.25,"r":0.06},{"f":2.21,"a":0.12,"r":0.15},
{"f":2.23,"a":0.20,"r":0.05},{"f":2.25,"a":0.10,"r":0.08},{"f":2.27,"a":0.18,"r":0.04},{"f":2.29,"a":0.12,"r":0.10},{"f":2.31,"a":0.22,"r":0.06},
{"f":2.33,"a":0.10,"r":0.12},{"f":2.35,"a":0.20,"r":0.05},{"f":2.37,"a":0.12,"r":0.15},{"f":2.39,"a":0.28,"r":0.08},{"f":2.41,"a":0.15,"r":0.05},
{"f":2.43,"a":0.22,"r":0.12},{"f":2.45,"a":0.10,"r":0.06},{"f":2.47,"a":0.25,"r":0.10},{"f":2.49,"a":0.12,"r":0.05},{"f":2.51,"a":0.20,"r":0.15},
{"f":2.53,"a":0.30,"r":0.22},{"f":2.55,"a":0.42,"r":0.45},{"f":2.57,"a":0.20,"r":0.15},{"f":2.59,"a":0.30,"r":0.25},{"f":2.61,"a":0.12,"r":0.06},
{"f":2.63,"a":0.22,"r":0.10},{"f":2.65,"a":0.10,"r":0.05},{"f":2.67,"a":0.18,"r":0.12},{"f":2.69,"a":0.12,"r":0.04},{"f":2.71,"a":0.22,"r":0.10},
{"f":2.73,"a":0.10,"r":0.05},{"f":2.75,"a":0.18,"r":0.08},{"f":2.77,"a":0.12,"r":0.04},{"f":2.79,"a":0.20,"r":0.10},{"f":2.81,"a":0.15,"r":0.06},
{"f":2.83,"a":0.25,"r":0.12},{"f":2.85,"a":0.12,"r":0.05},{"f":2.87,"a":0.20,"r":0.08},{"f":2.89,"a":0.30,"r":0.12},{"f":2.91,"a":0.15,"r":0.05},
{"f":2.93,"a":0.25,"r":0.15},{"f":2.95,"a":0.12,"r":0.08},{"f":2.97,"a":0.22,"r":0.20},{"f":2.99,"a":0.10,"r":0.05},{"f":3.01,"a":0.20,"r":0.10},
{"f":3.03,"a":0.12,"r":0.06},{"f":3.05,"a":0.25,"r":0.12},{"f":3.07,"a":0.15,"r":0.05},{"f":3.09,"a":0.22,"r":0.08},{"f":3.11,"a":0.20,"r":0.04},
{"f":3.13,"a":0.62,"r":0.10},{"f":3.15,"a":0.20,"r":0.06},{"f":3.17,"a":0.15,"r":0.10},{"f":3.19,"a":0.18,"r":0.05},{"f":3.21,"a":0.10,"r":0.08},
{"f":3.23,"a":0.14,"r":0.04},{"f":3.25,"a":0.08,"r":0.06},{"f":3.27,"a":0.12,"r":0.03},{"f":3.29,"a":0.05,"r":0.05},{"f":3.31,"a":0.08,"r":0.02},
{"f":3.33,"a":0.06,"r":0.04},{"f":3.35,"a":0.10,"r":0.06},{"f":3.37,"a":0.25,"r":0.05},{"f":3.39,"a":0.18,"r":0.08},{"f":3.41,"a":0.28,"r":0.04},
{"f":3.43,"a":0.20,"r":0.06},{"f":3.45,"a":0.26,"r":0.10},{"f":3.47,"a":0.18,"r":0.05},{"f":3.49,"a":0.28,"r":0.08},{"f":3.51,"a":0.20,"r":0.04},
{"f":3.53,"a":0.25,"r":0.10},{"f":3.55,"a":0.18,"r":0.06},{"f":3.57,"a":0.26,"r":0.12},{"f":3.59,"a":0.20,"r":0.05},{"f":3.61,"a":0.28,"r":0.08},
{"f":3.63,"a":0.15,"r":0.04},{"f":3.65,"a":0.30,"r":0.10},{"f":3.67,"a":0.20,"r":0.06},{"f":3.697,"a":0.99,"r":0.08},{"f":3.72,"a":0.20,"r":0.05},
{"f":3.74,"a":0.15,"r":0.10},{"f":3.76,"a":0.25,"r":0.06},{"f":3.78,"a":0.12,"r":0.04},{"f":3.80,"a":0.22,"r":0.08},{"f":3.82,"a":0.15,"r":0.05},
{"f":3.84,"a":0.25,"r":0.10},{"f":3.86,"a":0.12,"r":0.06},{"f":3.88,"a":0.20,"r":0.04},{"f":3.90,"a":0.28,"r":0.12},{"f":3.92,"a":0.15,"r":0.05},
{"f":3.94,"a":0.25,"r":0.08},{"f":3.96,"a":0.12,"r":0.04},{"f":3.98,"a":0.22,"r":0.10},{"f":4.00,"a":0.15,"r":0.06},{"f":4.02,"a":0.30,"r":0.12},
{"f":4.04,"a":0.20,"r":0.15},{"f":4.06,"a":0.45,"r":0.20},{"f":4.08,"a":0.30,"r":0.10},{"f":4.10,"a":0.38,"r":0.15},{"f":4.12,"a":0.20,"r":0.06},
{"f":4.14,"a":0.30,"r":0.10},{"f":4.16,"a":0.15,"r":0.05},{"f":4.18,"a":0.25,"r":0.12},{"f":4.20,"a":0.12,"r":0.06},{"f":4.22,"a":0.28,"r":0.10},
{"f":4.24,"a":0.18,"r":0.05},{"f":4.26,"a":0.30,"r":0.12},{"f":4.28,"a":0.20,"r":0.06},{"f":4.30,"a":0.35,"r":0.10},{"f":4.32,"a":0.20,"r":0.05},
{"f":4.34,"a":0.28,"r":0.12},{"f":4.36,"a":0.15,"r":0.06},{"f":4.38,"a":0.30,"r":0.10},{"f":4.40,"a":0.22,"r":0.05},{"f":4.42,"a":0.38,"r":0.15},
{"f":4.44,"a":0.20,"r":0.08},{"f":4.46,"a":0.32,"r":0.12},{"f":4.48,"a":0.18,"r":0.05},{"f":4.50,"a":0.30,"r":0.10},{"f":4.52,"a":0.45,"r":0.08},
{"f":4.54,"a":0.25,"r":0.05},{"f":4.56,"a":0.35,"r":0.12},{"f":4.58,"a":0.20,"r":0.06},{"f":4.60,"a":0.40,"r":0.10},{"f":4.62,"a":0.25,"r":0.05},
{"f":4.64,"a":0.30,"r":0.12},{"f":4.66,"a":0.45,"r":0.15},{"f":4.68,"a":0.20,"r":0.06},
{"f":4.700,"a":0.40,"r":0.10},{"f":4.720,"a":0.20,"r":0.06},{"f":4.740,"a":0.50,"r":0.12},{"f":4.760,"a":0.25,"r":0.20},{"f":4.780,"a":0.60,"r":0.40},
{"f":4.800,"a":0.30,"r":0.12},{"f":4.820,"a":0.75,"r":0.08},{"f":4.840,"a":0.40,"r":0.15},{"f":4.860,"a":1.00,"r":0.06},{"f":4.880,"a":0.50,"r":0.10},
{"f":4.900,"a":1.30,"r":0.05},{"f":4.915,"a":0.70,"r":0.12},{"f":4.925,"a":2.20,"r":0.08},{"f":4.933,"a":3.50,"r":0.05},{"f":4.944,"a":6.62,"r":0.08},
{"f":4.953,"a":2.50,"r":0.06},{"f":4.962,"a":5.90,"r":0.10},{"f":4.970,"a":2.80,"r":0.05},{"f":4.980,"a":2.05,"r":0.12},{"f":4.995,"a":0.45,"r":0.08},
{"f":5.020,"a":1.30,"r":0.14},{"f":5.045,"a":0.40,"r":0.06},{"f":5.070,"a":1.45,"r":0.15},{"f":5.088,"a":0.60,"r":0.10},{"f":5.100,"a":2.80,"r":0.25},
{"f":5.110,"a":3.00,"r":0.15},{"f":5.122,"a":7.42,"r":0.10},{"f":5.132,"a":3.00,"r":0.08},{"f":5.142,"a":3.90,"r":0.06},{"f":5.152,"a":2.80,"r":0.10},
{"f":5.160,"a":3.50,"r":0.15},{"f":5.169,"a":7.40,"r":0.25},{"f":5.178,"a":2.60,"r":0.30},{"f":5.185,"a":2.30,"r":0.15},{"f":5.195,"a":0.60,"r":0.10},
{"f":5.210,"a":1.90,"r":0.08},{"f":5.235,"a":0.40,"r":0.12},{"f":5.260,"a":1.30,"r":0.06},{"f":5.285,"a":0.30,"r":0.20},{"f":5.310,"a":1.10,"r":0.30},
{"f":5.335,"a":0.25,"r":0.10},{"f":5.360,"a":0.95,"r":0.30},{"f":5.385,"a":0.25,"r":0.08},{"f":5.410,"a":0.90,"r":0.15},{"f":5.435,"a":0.25,"r":0.06},
{"f":5.460,"a":0.95,"r":0.25},{"f":5.485,"a":0.35,"r":0.12},{"f":5.510,"a":1.10,"r":0.25},{"f":5.530,"a":0.50,"r":0.10},{"f":5.545,"a":3.20,"r":0.12},
{"f":5.555,"a":1.50,"r":0.10},{"f":5.574,"a":8.30,"r":0.08},{"f":5.585,"a":2.30,"r":0.25},{"f":5.595,"a":3.60,"r":0.12},{"f":5.610,"a":0.50,"r":0.08},
{"f":5.635,"a":1.20,"r":0.10},{"f":5.660,"a":0.30,"r":0.06},{"f":5.685,"a":0.95,"r":0.12},{"f":5.710,"a":0.25,"r":0.05},{"f":5.735,"a":0.70,"r":0.10},
{"f":5.760,"a":0.20,"r":0.06},{"f":5.785,"a":0.45,"r":0.12},{"f":5.800,"a":0.20,"r":0.08},
{"f":5.82,"a":0.25,"r":0.10},{"f":5.84,"a":0.35,"r":0.05},{"f":5.86,"a":0.15,"r":0.12},{"f":5.88,"a":0.30,"r":0.06},{"f":5.90,"a":0.20,"r":0.08},
{"f":5.92,"a":0.35,"r":0.10},{"f":5.94,"a":0.15,"r":0.05},{"f":5.96,"a":0.28,"r":0.12},{"f":5.98,"a":0.12,"r":0.06},{"f":6.00,"a":0.25,"r":0.08},
{"f":6.02,"a":0.15,"r":0.05},{"f":6.04,"a":0.30,"r":0.10},{"f":6.06,"a":0.20,"r":0.06},{"f":6.08,"a":0.25,"r":0.12},{"f":6.10,"a":0.12,"r":0.05},
{"f":6.12,"a":0.22,"r":0.08},{"f":6.14,"a":0.15,"r":0.04},{"f":6.16,"a":0.28,"r":0.10},{"f":6.18,"a":0.12,"r":0.06},{"f":6.20,"a":0.30,"r":0.12},
{"f":6.22,"a":0.18,"r":0.05},{"f":6.24,"a":0.25,"r":0.08},{"f":6.26,"a":0.12,"r":0.04},{"f":6.28,"a":0.22,"r":0.10},{"f":6.30,"a":0.15,"r":0.06},
{"f":6.32,"a":0.25,"r":0.12},{"f":6.34,"a":0.12,"r":0.05},{"f":6.36,"a":0.20,"r":0.08},{"f":6.38,"a":0.15,"r":0.04},{"f":6.40,"a":0.30,"r":0.10},
{"f":6.42,"a":0.18,"r":0.06},{"f":6.44,"a":0.32,"r":0.15},{"f":6.46,"a":0.20,"r":0.25},{"f":6.48,"a":0.40,"r":0.12},{"f":6.498,"a":0.63,"r":0.08},
{"f":6.51,"a":0.35,"r":0.30},{"f":6.53,"a":0.20,"r":0.10},{"f":6.55,"a":0.30,"r":0.06},{"f":6.57,"a":0.15,"r":0.12},{"f":6.59,"a":0.25,"r":0.05},
{"f":6.61,"a":0.12,"r":0.08},{"f":6.63,"a":0.20,"r":0.04},{"f":6.65,"a":0.15,"r":0.10},{"f":6.67,"a":0.25,"r":0.20},{"f":6.69,"a":0.30,"r":0.55},
{"f":6.71,"a":0.15,"r":0.20},{"f":6.73,"a":0.25,"r":0.06},{"f":6.75,"a":0.12,"r":0.10},{"f":6.77,"a":0.20,"r":0.05},{"f":6.79,"a":0.10,"r":0.08},
{"f":6.81,"a":0.15,"r":0.04},{"f":6.83,"a":0.08,"r":0.06},{"f":6.85,"a":0.12,"r":0.03},{"f":6.87,"a":0.06,"r":0.05},{"f":6.89,"a":0.10,"r":0.03},
{"f":6.91,"a":0.15,"r":0.05},{"f":6.93,"a":0.20,"r":0.08},{"f":6.95,"a":0.15,"r":0.04},{"f":6.97,"a":0.25,"r":0.10},{"f":6.99,"a":0.18,"r":0.06},
{"f":7.01,"a":0.30,"r":0.12},{"f":7.03,"a":0.25,"r":0.20},{"f":7.045,"a":0.70,"r":0.10},{"f":7.06,"a":0.30,"r":0.25},{"f":7.08,"a":0.40,"r":0.55},
{"f":7.095,"a":0.50,"r":0.20},{"f":7.112,"a":1.71,"r":0.15},{"f":7.125,"a":0.60,"r":0.10},{"f":7.14,"a":0.40,"r":0.08},{"f":7.16,"a":0.55,"r":0.30},
{"f":7.18,"a":0.20,"r":0.10},{"f":7.20,"a":0.30,"r":0.05},{"f":7.22,"a":0.15,"r":0.08},{"f":7.24,"a":0.25,"r":0.04},{"f":7.26,"a":0.10,"r":0.06},
{"f":7.28,"a":0.20,"r":0.10},{"f":7.30,"a":0.08,"r":0.04},{"f":7.32,"a":0.15,"r":0.06},{"f":7.34,"a":0.10,"r":0.12},{"f":7.36,"a":0.20,"r":0.08},
{"f":7.38,"a":0.25,"r":0.15},{"f":7.40,"a":0.35,"r":0.40},{"f":7.42,"a":0.15,"r":0.12},{"f":7.44,"a":0.25,"r":0.06},{"f":7.46,"a":0.15,"r":0.10},
{"f":7.48,"a":0.30,"r":0.20},{"f":7.50,"a":0.12,"r":0.08},{"f":7.52,"a":0.25,"r":0.15},{"f":7.54,"a":0.35,"r":0.25},{"f":7.56,"a":0.15,"r":0.10},
{"f":7.58,"a":0.25,"r":0.20},{"f":7.60,"a":0.12,"r":0.06},{"f":7.62,"a":0.20,"r":0.12},{"f":7.64,"a":0.30,"r":0.08},{"f":7.66,"a":0.20,"r":0.25},
{"f":7.68,"a":0.55,"r":0.15},{"f":7.70,"a":0.40,"r":0.30},{"f":7.719,"a":0.97,"r":0.45},{"f":7.735,"a":0.60,"r":0.15},{"f":7.75,"a":0.30,"r":0.25},
{"f":7.77,"a":0.15,"r":0.08},{"f":7.79,"a":0.25,"r":0.12},{"f":7.81,"a":0.12,"r":0.05},{"f":7.83,"a":0.20,"r":0.10},{"f":7.85,"a":0.10,"r":0.06},
{"f":7.87,"a":0.25,"r":0.12},{"f":7.89,"a":0.15,"r":0.05},{"f":7.91,"a":0.22,"r":0.08},{"f":7.93,"a":0.12,"r":0.04},{"f":7.95,"a":0.28,"r":0.10},
{"f":7.97,"a":0.15,"r":0.06},{"f":7.99,"a":0.20,"r":0.12},{"f":8.01,"a":0.12,"r":0.05},{"f":8.03,"a":0.25,"r":0.08},{"f":8.05,"a":0.15,"r":0.10},
{"f":8.07,"a":0.22,"r":0.06},{"f":8.09,"a":0.12,"r":0.04},{"f":8.11,"a":0.15,"r":0.06},{"f":8.13,"a":0.08,"r":0.03},{"f":8.15,"a":0.10,"r":0.05},
{"f":8.17,"a":0.06,"r":0.02},{"f":8.19,"a":0.08,"r":0.04},{"f":8.21,"a":0.05,"r":0.03},{"f":8.23,"a":0.07,"r":0.05},{"f":8.25,"a":0.05,"r":0.02},
{"f":8.27,"a":0.08,"r":0.04},{"f":8.29,"a":0.06,"r":0.03},{"f":8.31,"a":0.10,"r":0.06},{"f":8.33,"a":0.15,"r":0.10},{"f":8.35,"a":0.20,"r":0.08},
{"f":8.37,"a":0.18,"r":0.12},{"f":8.39,"a":0.25,"r":0.20},{"f":8.41,"a":0.20,"r":0.15},{"f":8.43,"a":0.35,"r":0.30},{"f":8.45,"a":0.25,"r":0.35},
{"f":8.47,"a":0.40,"r":0.20},{"f":8.486,"a":0.70,"r":0.15},{"f":8.50,"a":0.30,"r":0.40},{"f":8.52,"a":0.25,"r":0.12},{"f":8.54,"a":0.35,"r":0.30},
{"f":8.56,"a":0.15,"r":0.10},{"f":8.58,"a":0.25,"r":0.20},{"f":8.60,"a":0.15,"r":0.06},{"f":8.62,"a":0.22,"r":0.12},{"f":8.64,"a":0.12,"r":0.05},
{"f":8.66,"a":0.25,"r":0.10},{"f":8.68,"a":0.15,"r":0.06},{"f":8.70,"a":0.28,"r":0.12},{"f":8.72,"a":0.15,"r":0.05},{"f":8.74,"a":0.30,"r":0.15},
{"f":8.76,"a":0.18,"r":0.08},{"f":8.78,"a":0.25,"r":0.12},{"f":8.80,"a":0.15,"r":0.06},{"f":8.82,"a":0.30,"r":0.20},{"f":8.84,"a":0.18,"r":0.10},
{"f":8.86,"a":0.32,"r":0.15},{"f":8.88,"a":0.20,"r":0.30},{"f":8.90,"a":0.35,"r":0.12},{"f":8.92,"a":0.25,"r":0.35},{"f":8.94,"a":0.40,"r":0.15},
{"f":8.96,"a":0.25,"r":0.40},{"f":8.98,"a":0.38,"r":0.20},{"f":9.00,"a":0.30,"r":0.35}
],
"fr":[
{"v":0.364,"s":"dashed"},{"v":0.394,"s":"dotted"},{"v":0.597,"s":"dashed"},{"v":0.691,"s":"dashed"},{"v":3.13,"s":"dashed"},
{"v":3.697,"s":"dashed"},{"v":4.944,"s":"dashed"},{"v":5.122,"s":"dashed"},{"v":5.169,"s":"dashed"},{"v":5.574,"s":"dashed"},
{"v":6.498,"s":"dashed"},{"v":7.045,"s":"dashed"},{"v":7.112,"s":"dashed"},{"v":7.719,"s":"dashed"},{"v":8.486,"s":"dashed"}
]
},
"bounds":"flush",
"spacing":162,
"vconcat":[
{
"width":1327,"height":241,
"data":{"name":"lc"},
"layer":[
{"mark":{"type":"point","filled":true,"size":34,"color":"#000","opacity":1,"strokeWidth":0},
"encoding":{
"x":{"field":"t","type":"quantitative","scale":{"domain":[2667,2740.9],"nice":false,"zero":false},
"axis":{"orient":"bottom","values":[2670,2680,2690,2700,2710,2720,2730,2740],"format":"d","title":"BJD − 2454833","titlePadding":15}},
"y":{"field":"m","type":"quantitative","scale":{"domain":[-50,50],"reverse":true,"nice":false,"zero":false},
"axis":{"orient":"left","values":[-50,0,50],"format":"d","title":"ΔKp (mmag)","titlePadding":22}}}},
{"mark":{"type":"point","opacity":0},
"encoding":{
"x":{"field":"t","type":"quantitative","axis":{"orient":"bottom","values":[2667,2668,2669,2670,2671,2672,2673,2674,2675,2676,2677,2678,2679,2680,2681,2682,2683,2684,2685,2686,2687,2688,2689,2690,2691,2692,2693,2694,2695,2696,2697,2698,2699,2700,2701,2702,2703,2704,2705,2706,2707,2708,2709,2710,2711,2712,2713,2714,2715,2716,2717,2718,2719,2720,2721,2722,2723,2724,2725,2726,2727,2728,2729,2730,2731,2732,2733,2734,2735,2736,2737,2738,2739,2740],"labels":false,"domain":false,"tickSize":7.7,"tickWidth":2.3,"title":null}},
"y":{"field":"m","type":"quantitative","axis":{"orient":"left","values":[-40,-30,-20,-10,10,20,30,40],"labels":false,"domain":false,"tickSize":7.7,"tickWidth":2.3,"title":null}}}},
{"mark":{"type":"point","opacity":0},
"encoding":{
"x":{"field":"t","type":"quantitative","axis":{"orient":"top","values":[2670,2680,2690,2700,2710,2720,2730,2740],"labels":false,"title":null}},
"y":{"field":"m","type":"quantitative","axis":{"orient":"right","values":[-50,0,50],"labels":false,"title":null}}}},
{"mark":{"type":"point","opacity":0},
"encoding":{
"x":{"field":"t","type":"quantitative","axis":{"orient":"top","values":[2667,2668,2669,2670,2671,2672,2673,2674,2675,2676,2677,2678,2679,2680,2681,2682,2683,2684,2685,2686,2687,2688,2689,2690,2691,2692,2693,2694,2695,2696,2697,2698,2699,2700,2701,2702,2703,2704,2705,2706,2707,2708,2709,2710,2711,2712,2713,2714,2715,2716,2717,2718,2719,2720,2721,2722,2723,2724,2725,2726,2727,2728,2729,2730,2731,2732,2733,2734,2735,2736,2737,2738,2739,2740],"labels":false,"domain":false,"tickSize":7.7,"tickWidth":2.3,"title":null}},
"y":{"field":"m","type":"quantitative","axis":{"orient":"right","values":[-40,-30,-20,-10,10,20,30,40],"labels":false,"domain":false,"tickSize":7.7,"tickWidth":2.3,"title":null}}}}
],
"resolve":{"axis":{"x":"independent","y":"independent"}}
},
{
"width":1327,"height":483,
"data":{"name":"ps"},
"layer":[
{"mark":{"type":"line","color":"#000","strokeWidth":2.2},
"encoding":{
"x":{"field":"f","type":"quantitative","scale":{"domain":[0,9],"nice":false,"zero":false},
"axis":{"orient":"bottom","values":[0,1,2,3,4,5,6,7,8,9],"format":"d","title":"Frequency (d⁻¹)","titlePadding":15}},
"y":{"field":"a","type":"quantitative","scale":{"domain":[0,9.1],"nice":false,"zero":false},
"axis":{"orient":"left","values":[0,2,4,6,8],"format":"d","title":"Amplitude (mmag)","titlePadding":22}}}},
{"mark":{"type":"line","color":"#ff0000","strokeWidth":2.2},
"encoding":{
"x":{"field":"f","type":"quantitative","axis":{"orient":"top","values":[0,1,2,3,4,5,6,7,8,9],"labels":false,"title":null}},
"y":{"field":"r","type":"quantitative","axis":{"orient":"right","values":[0,2,4,6,8],"labels":false,"title":null}}}},
{"mark":{"type":"point","opacity":0},
"encoding":{
"x":{"field":"f","type":"quantitative","axis":{"orient":"bottom","values":[0,0.25,0.5,0.75,1,1.25,1.5,1.75,2,2.25,2.5,2.75,3,3.25,3.5,3.75,4,4.25,4.5,4.75,5,5.25,5.5,5.75,6,6.25,6.5,6.75,7,7.25,7.5,7.75,8,8.25,8.5,8.75,9],"labels":false,"domain":false,"tickSize":7.7,"tickWidth":2.3,"title":null}},
"y":{"field":"a","type":"quantitative","axis":null}}},
{"mark":{"type":"point","opacity":0},
"encoding":{
"x":{"field":"f","type":"quantitative","axis":{"orient":"top","values":[0,0.25,0.5,0.75,1,1.25,1.5,1.75,2,2.25,2.5,2.75,3,3.25,3.5,3.75,4,4.25,4.5,4.75,5,5.25,5.5,5.75,6,6.25,6.5,6.75,7,7.25,7.5,7.75,8,8.25,8.5,8.75,9],"labels":false,"domain":false,"tickSize":7.7,"tickWidth":2.3,"title":null}},
"y":{"field":"a","type":"quantitative","axis":null}}},
{"data":{"name":"fr"},"mark":{"type":"rule","color":"#6e6e6e","strokeWidth":2},
"encoding":{
"x":{"field":"v","type":"quantitative","axis":null},
"strokeDash":{"field":"s","type":"nominal","scale":{"domain":["dashed","dotted"],"range":[[7,3],[2,3]]},"legend":null}}}
],
"resolve":{"axis":{"x":"independent","y":"independent"}}
}
]
}
